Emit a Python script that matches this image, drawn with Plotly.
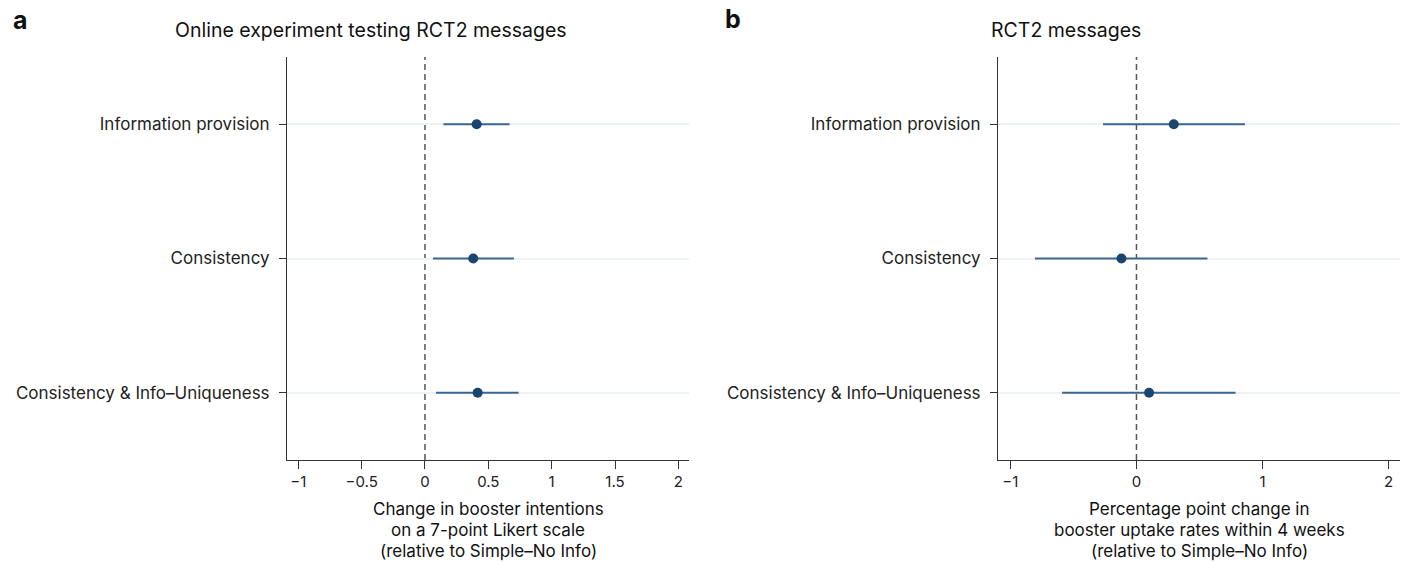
import plotly.graph_objects as go

categories = ["Information provision", "Consistency", "Consistency & Info\u2013Uniqueness"]
y_pos = [3, 2, 1]

# Panel a: online experiment (Likert scale change)
a_est = [0.408, 0.381, 0.416]
a_lo = [0.145, 0.063, 0.087]
a_hi = [0.668, 0.702, 0.739]

# Panel b: RCT2 (percentage point change)
b_est = [0.296, -0.119, 0.100]
b_lo = [-0.265, -0.805, -0.590]
b_hi = [0.860, 0.563, 0.786]

a_ticks = [-1, -0.5, 0, 0.5, 1, 1.5, 2]
a_ticktext = ["\u22121", "\u22120.5", "0", "0.5", "1", "1.5", "2"]
b_ticks = [-1, 0, 1, 2]
b_ticktext = ["\u22121", "0", "1", "2"]

a_xtitle = ["Change in booster intentions", "on a 7-point Likert scale", "(relative to Simple\u2013No Info)"]
b_xtitle = ["Percentage point change in", "booster uptake rates within 4 weeks", "(relative to Simple\u2013No Info)"]

FONT = "Inter"
W, H = 1406, 562
marker_col = "#1b4570"
ci_col = "#3a6690"

fig = go.Figure()

for est, lo, hi, xa, ya in [(a_est, a_lo, a_hi, "x", "y"), (b_est, b_lo, b_hi, "x2", "y2")]:
    fig.add_trace(go.Scatter(
        x=est, y=y_pos, mode="markers",
        marker=dict(size=10, color=marker_col),
        error_x=dict(type="data", symmetric=False,
                     array=[h - e for h, e in zip(hi, est)],
                     arrayminus=[e - l for e, l in zip(est, lo)],
                     color=ci_col, thickness=2, width=0),
        xaxis=xa, yaxis=ya, showlegend=False, hoverinfo="skip"))

ydom = [1 - 460 / H, 1 - 57 / H]
common_y = dict(range=[0.5, 3.5], tickvals=y_pos, ticktext=categories,
                showgrid=True, gridcolor="#edf2f4", gridwidth=2,
                showline=True, linecolor="#333333", linewidth=1,
                ticks="outside", ticklen=7, tickcolor="#333333",
                ticklabelstandoff=6,
                tickfont=dict(family=FONT, size=17, color="#222222"),
                zeroline=False, domain=ydom, fixedrange=True)
common_x = dict(showgrid=False, zeroline=False, showline=True, linecolor="#333333",
                linewidth=1, ticks="outside", ticklen=8, tickcolor="#333333",
                tickfont=dict(family=FONT, size=15, color="#222222"))

fig.update_layout(
    width=W, height=H,
    margin=dict(l=0, r=0, t=0, b=0),
    paper_bgcolor="white", plot_bgcolor="white",
    xaxis=dict(domain=[287 / W, 689 / W], range=[-1.089, 2.084],
               tickvals=a_ticks, ticktext=a_ticktext, anchor="y", **common_x),
    yaxis=dict(anchor="x", **common_y),
    xaxis2=dict(domain=[998 / W, 1400 / W], range=[-1.098, 2.09],
                tickvals=b_ticks, ticktext=b_ticktext, anchor="y2", **common_x),
    yaxis2=dict(anchor="x2", **common_y),
)

# dashed zero reference lines
for xr, yr in [("x", "y domain"), ("x2", "y2 domain")]:
    fig.add_shape(type="line", xref=xr, yref=yr, x0=0, x1=0, y0=0, y1=1,
                  line=dict(color="#555555", width=1.5, dash="6px,4px"), layer="below")

ann = [
    dict(text="<b>a</b>", x=11 / W, y=1 - 20 / H, xanchor="left", size=25, weight=900),
    dict(text="<b>b</b>", x=723 / W, y=1 - 19 / H, xanchor="left", size=25, weight=900),
    dict(text="Online experiment testing RCT2 messages", x=371 / W, y=1 - 30 / H, xanchor="center", size=19.5),
    dict(text="RCT2 messages", x=1066 / W, y=1 - 30 / H, xanchor="center", size=19.5),
]
for lines, xc in [(a_xtitle, 488), (b_xtitle, 1199)]:
    for ln, yc in zip(lines, [509, 530, 551]):
        ann.append(dict(text=ln, x=xc / W, y=1 - yc / H, xanchor="center", size=17))

for a in ann:
    fig.add_annotation(text=a["text"], x=a["x"], y=a["y"], xref="paper", yref="paper",
                       xanchor=a["xanchor"], yanchor="middle", showarrow=False,
                       font=dict(family=FONT, size=a["size"], color="#111111",
                                 weight=a.get("weight", "normal")))

fig.write_html("out.html", config={"displayModeBar": False},
               post_script="document.body.style.margin='0';document.body.style.overflow='hidden';")
